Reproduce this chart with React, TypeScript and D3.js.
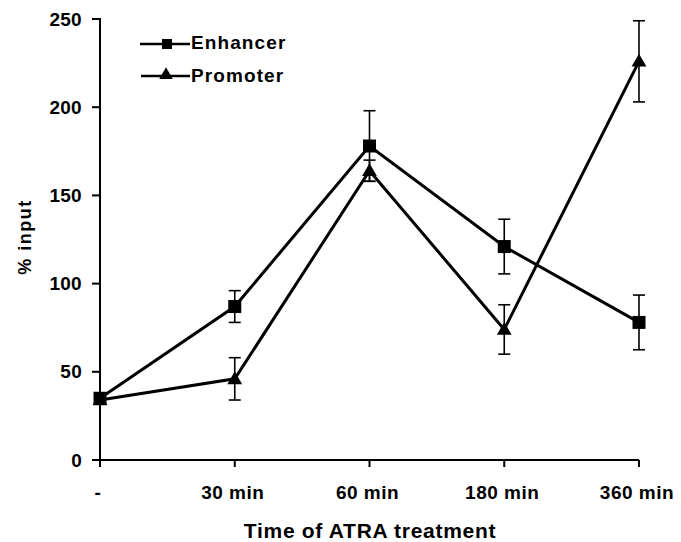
import React from "react";
import * as d3 from "d3";

const categories = ["-", "30 min", "60 min", "180 min", "360 min"];
const enhancer = [35, 87, 178, 121, 78];
const enhancerErr = [2, 9, 20, 15.5, 15.5];
const promoter = [34, 46, 164, 74, 226];
const promoterErr = [2, 12, 6, 14, 23];
const yTicks = [0, 50, 100, 150, 200, 250];

const W = 681;
const H = 542;
const FONT = "'Liberation Sans', Arial, sans-serif";

export default function App() {
  const x = d3.scalePoint<string>().domain(categories).range([100, 639]);
  const y = d3.scaleLinear().domain([0, 250]).range([460, 19]);
  const line = d3
    .line<number>()
    .x((_, i) => x(categories[i]) as number)
    .y((d) => y(d));

  const tri = d3.symbol().type(d3.symbolTriangle).size(95)() as string;
  const triLegend = d3.symbol().type(d3.symbolTriangle).size(80)() as string;

  const errBars = (vals: number[], errs: number[], key: string) =>
    vals.map((v, i) => {
      const cx = x(categories[i]) as number;
      const t = y(v + errs[i]);
      const b = y(v - errs[i]);
      return (
        <g key={key + i} stroke="#000" strokeWidth={1.6}>
          <line x1={cx} x2={cx} y1={t} y2={b} />
          <line x1={cx - 6} x2={cx + 6} y1={t} y2={t} />
          <line x1={cx - 6} x2={cx + 6} y1={b} y2={b} />
        </g>
      );
    });

  return (
    <svg
      width={W}
      height={H}
      style={{ position: "absolute", left: 0, top: 0, background: "#fff" }}
      fontFamily={FONT}
      fontWeight="bold"
    >
      {/* axes */}
      <line x1={100} x2={100} y1={18} y2={461} stroke="#000" strokeWidth={2} />
      <line x1={99} x2={639} y1={460} y2={460} stroke="#000" strokeWidth={2} />
      {yTicks.map((t) => (
        <g key={"yt" + t}>
          <line x1={92} x2={100} y1={y(t)} y2={y(t)} stroke="#000" strokeWidth={2} />
          <text
            x={82}
            y={y(t)}
            dy="0.35em"
            textAnchor="end"
            fontSize={19}
            letterSpacing={0.3}
          >
            {t}
          </text>
        </g>
      ))}
      {categories.map((c) => (
        <g key={"xt" + c}>
          <line
            x1={x(c) as number}
            x2={x(c) as number}
            y1={460}
            y2={467}
            stroke="#000"
            strokeWidth={2}
          />
          <text
            x={(x(c) as number) - 2}
            y={499}
            textAnchor="middle"
            fontSize={19}
            letterSpacing={0.5}
          >
            {c}
          </text>
        </g>
      ))}
      <text x={370} y={538} textAnchor="middle" fontSize={21} letterSpacing={0.7}>
        Time of ATRA treatment
      </text>
      <text
        transform="translate(31,237) rotate(-90)"
        textAnchor="middle"
        fontSize={18}
        letterSpacing={1.5}
      >
        % input
      </text>

      {/* error bars */}
      {errBars(enhancer, enhancerErr, "ee")}
      {errBars(promoter, promoterErr, "pe")}

      {/* lines */}
      <path d={line(promoter) as string} fill="none" stroke="#000" strokeWidth={3} />
      <path d={line(enhancer) as string} fill="none" stroke="#000" strokeWidth={3} />

      {/* markers */}
      {promoter.map((v, i) => (
        <path
          key={"pm" + i}
          d={tri}
          transform={`translate(${x(categories[i])},${y(v) + 1})`}
          fill="#000"
        />
      ))}
      {enhancer.map((v, i) => (
        <rect
          key={"em" + i}
          x={(x(categories[i]) as number) - 6.5}
          y={y(v) - 6.5}
          width={13}
          height={13}
          fill="#000"
        />
      ))}

      {/* legend */}
      <line x1={140} x2={190} y1={44} y2={44} stroke="#000" strokeWidth={2.5} />
      <rect x={162} y={39} width={10} height={10} fill="#000" />
      <text x={191} y={49} fontSize={19} letterSpacing={1.1}>
        Enhancer
      </text>
      <line x1={141} x2={190} y1={76} y2={76} stroke="#000" strokeWidth={2.5} />
      <path d={triLegend} transform="translate(166,75)" fill="#000" />
      <text x={191} y={82} fontSize={19} letterSpacing={1.1}>
        Promoter
      </text>
    </svg>
  );
}
